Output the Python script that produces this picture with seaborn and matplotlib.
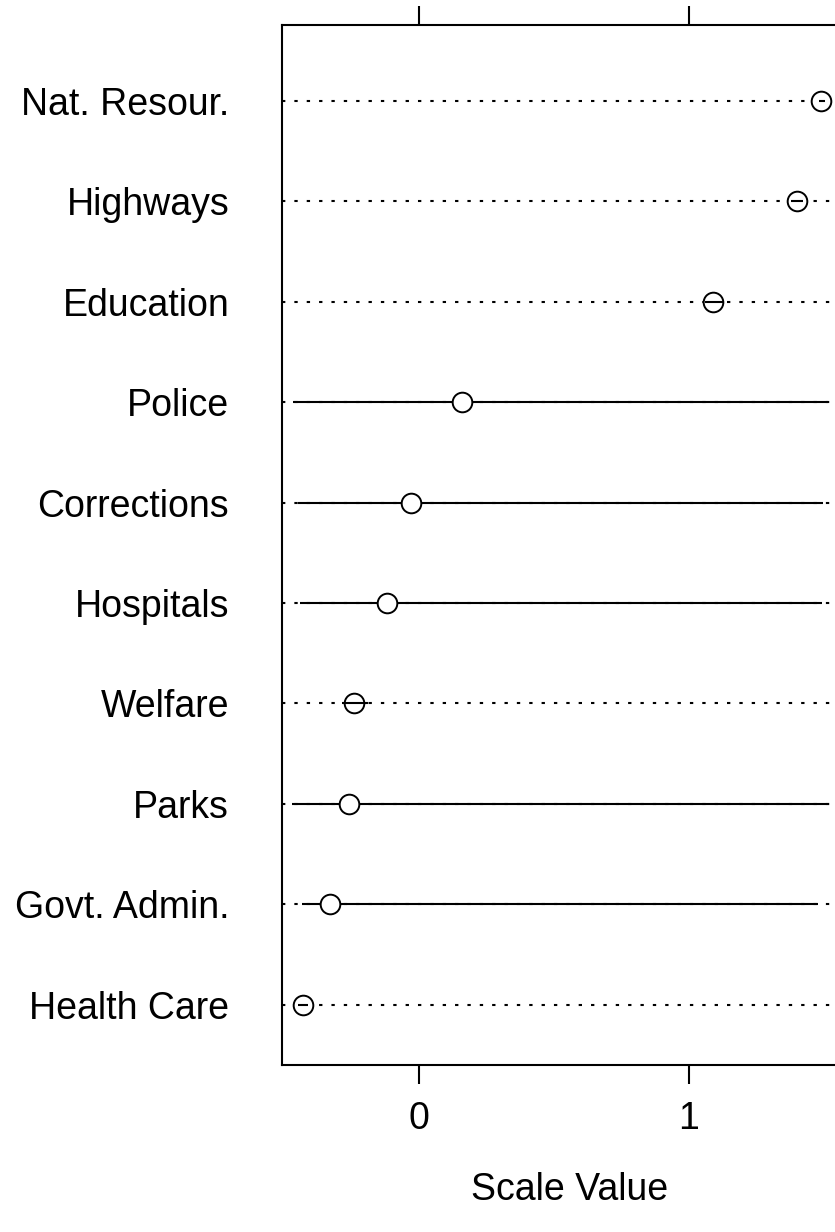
import numpy as np
import pandas as pd
import matplotlib
matplotlib.use("Agg")
import matplotlib.pyplot as plt
import seaborn as sns

# Spending categories, ordered top to bottom
categories = ["Nat. Resour.", "Highways", "Education", "Police", "Corrections",
              "Hospitals", "Welfare", "Parks", "Govt. Admin.", "Health Care"]
# Estimated scale values
scale_values = [1.49, 1.40, 1.09, 0.16, -0.03, -0.12, -0.24, -0.26, -0.33, -0.43]
# Interval bounds around each scale value
lower = [1.480, 1.378, 1.060, -0.467, -0.448, -0.441, -0.285, -0.470, -0.433, -0.448]
upper = [1.505, 1.422, 1.125, 1.515, 1.496, 1.493, -0.190, 1.519, 1.478, -0.410]
x_ticks = [0, 1]
x_label = "Scale Value"

df = pd.DataFrame({"category": categories, "value": scale_values,
                   "lower": lower, "upper": upper})
df["category"] = pd.Categorical(df["category"], categories=categories, ordered=True)

sns.set_style("ticks")
plt.rcParams["font.family"] = ["Liberation Sans", "DejaVu Sans"]
plt.rcParams["lines.scale_dashes"] = False

W, H, DPI = 835, 1232, 100
fig = plt.figure(figsize=(W / DPI, H / DPI), dpi=DPI)

x0_px, x1_px = 419.0, 689.0          # pixel columns of x = 0 and x = 1
ppu = x1_px - x0_px
left_px, top_px, bottom_px = 282.0, 25.0, 1065.0
xmin, xmax = (left_px - x0_px) / ppu, 1.62
right_px = x0_px + xmax * ppu
ax = fig.add_axes([left_px / W, 1 - bottom_px / H,
                   (right_px - left_px) / W, (bottom_px - top_px) / H])

pos = np.arange(len(df))

# dotted guide line across every row
for y in pos:
    ax.axhline(y, color="black", lw=1.5, linestyle=(0, (2.4, 6.5)), zorder=1)

# interval segments: long ones sit under the markers, short ones over them
span = df["upper"] - df["lower"]
wide = span > 0.2
ax.hlines(pos[wide], df["lower"][wide], df["upper"][wide],
          color="black", lw=1.5, zorder=2)

sns.scatterplot(data=df, x="value", y="category", ax=ax, marker="o", s=200,
                facecolor="white", edgecolor="black", linewidth=1.4, zorder=3,
                legend=False)

ax.hlines(pos[~wide], df["lower"][~wide], df["upper"][~wide],
          color="black", lw=1.5, zorder=4)

ax.set_xlim(xmin, xmax)
ax.set_ylim(len(df) - 1 + 0.6, -0.755)
ax.set_xticks(x_ticks)
ax.set_xticklabels([str(t) for t in x_ticks])
ax.set_yticks(pos)
ax.set_yticklabels(categories)

for s in ax.spines.values():
    s.set_visible(True)
    s.set_linewidth(1.5)
    s.set_color("black")

ax.tick_params(axis="x", which="both", top=True, bottom=True, direction="out",
               length=14, width=1.5, labelsize=27, pad=12, colors="black")
ax.tick_params(axis="y", length=0, labelsize=27, pad=38, colors="black")
ax.set_xlabel(x_label, fontsize=27, labelpad=25, color="black")
ax.set_ylabel("")
ax.grid(False)

fig.savefig("out.png", dpi=DPI)
